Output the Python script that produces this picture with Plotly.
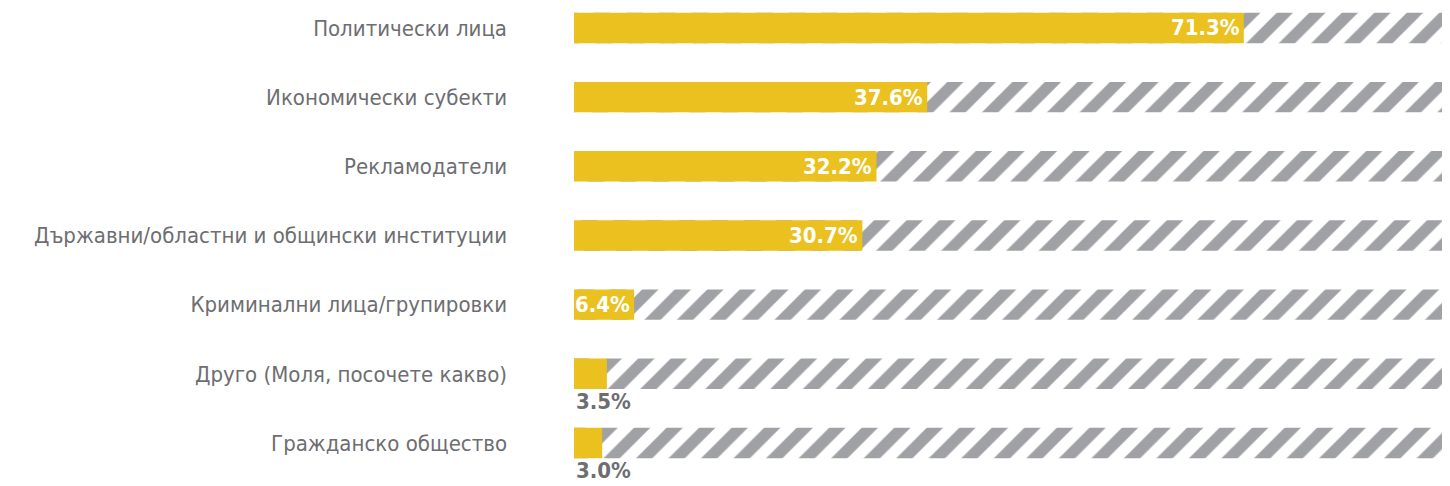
import plotly.graph_objects as go

categories = [
    "Политически лица",
    "Икономически субекти",
    "Рекламодатели",
    "Държавни/областни и общински институции",
    "Криминални лица/групировки",
    "Друго (Моля, посочете какво)",
    "Гражданско общество",
]
values = [71.3, 37.6, 32.2, 30.7, 6.4, 3.5, 3.0]
labels = ["71.3%", "37.6%", "32.2%", "30.7%", "6.4%", "3.5%", "3.0%"]
totals = [100] * len(categories)

YELLOW = "#EAC11F"
STRIPE = "#A0A1A4"
TEXT = "#6D6E71"
FONT = "DejaVu Sans Condensed, DejaVu Sans, sans-serif"

fig = go.Figure()
fig.add_trace(go.Bar(
    y=categories, x=totals, orientation="h", width=0.44,
    marker=dict(color="white", line=dict(width=0),
                pattern=dict(shape="/", size=23, solidity=0.5,
                             fgcolor=STRIPE, bgcolor="white", fillmode="replace")),
    hoverinfo="skip", showlegend=False,
))
fig.add_trace(go.Bar(
    y=categories, x=values, orientation="h", width=0.44,
    marker=dict(color=YELLOW, line=dict(width=0)),
    showlegend=False,
))

annotations = []
for c, v, t in zip(categories, values, labels):
    if v >= 5:
        annotations.append(dict(
            x=v, y=c, xref="x", yref="y", text=t, showarrow=False,
            xanchor="right", yanchor="middle", xshift=-2, yshift=0,
            font=dict(family=FONT, size=22, color="white", weight="bold"),
        ))
    else:
        annotations.append(dict(
            x=0, y=c, xref="x", yref="y", text=t, showarrow=False,
            xanchor="left", yanchor="top", yshift=-13,
            font=dict(family=FONT, size=22, color=TEXT, weight="bold"),
        ))

fig.update_layout(
    width=1434, height=478,
    margin=dict(l=566, r=0, t=0, b=0),
    paper_bgcolor="white", plot_bgcolor="white",
    barmode="overlay",
    annotations=annotations,
    xaxis=dict(range=[0, 92.4], visible=False, fixedrange=True),
    yaxis=dict(
        type="category", range=[6.622, -0.289],
        showgrid=False, zeroline=False, showline=False, ticks="",
        ticklabelstandoff=66,
        tickfont=dict(family=FONT, size=22, color=TEXT),
    ),
)

fig.write_html("out.html")
